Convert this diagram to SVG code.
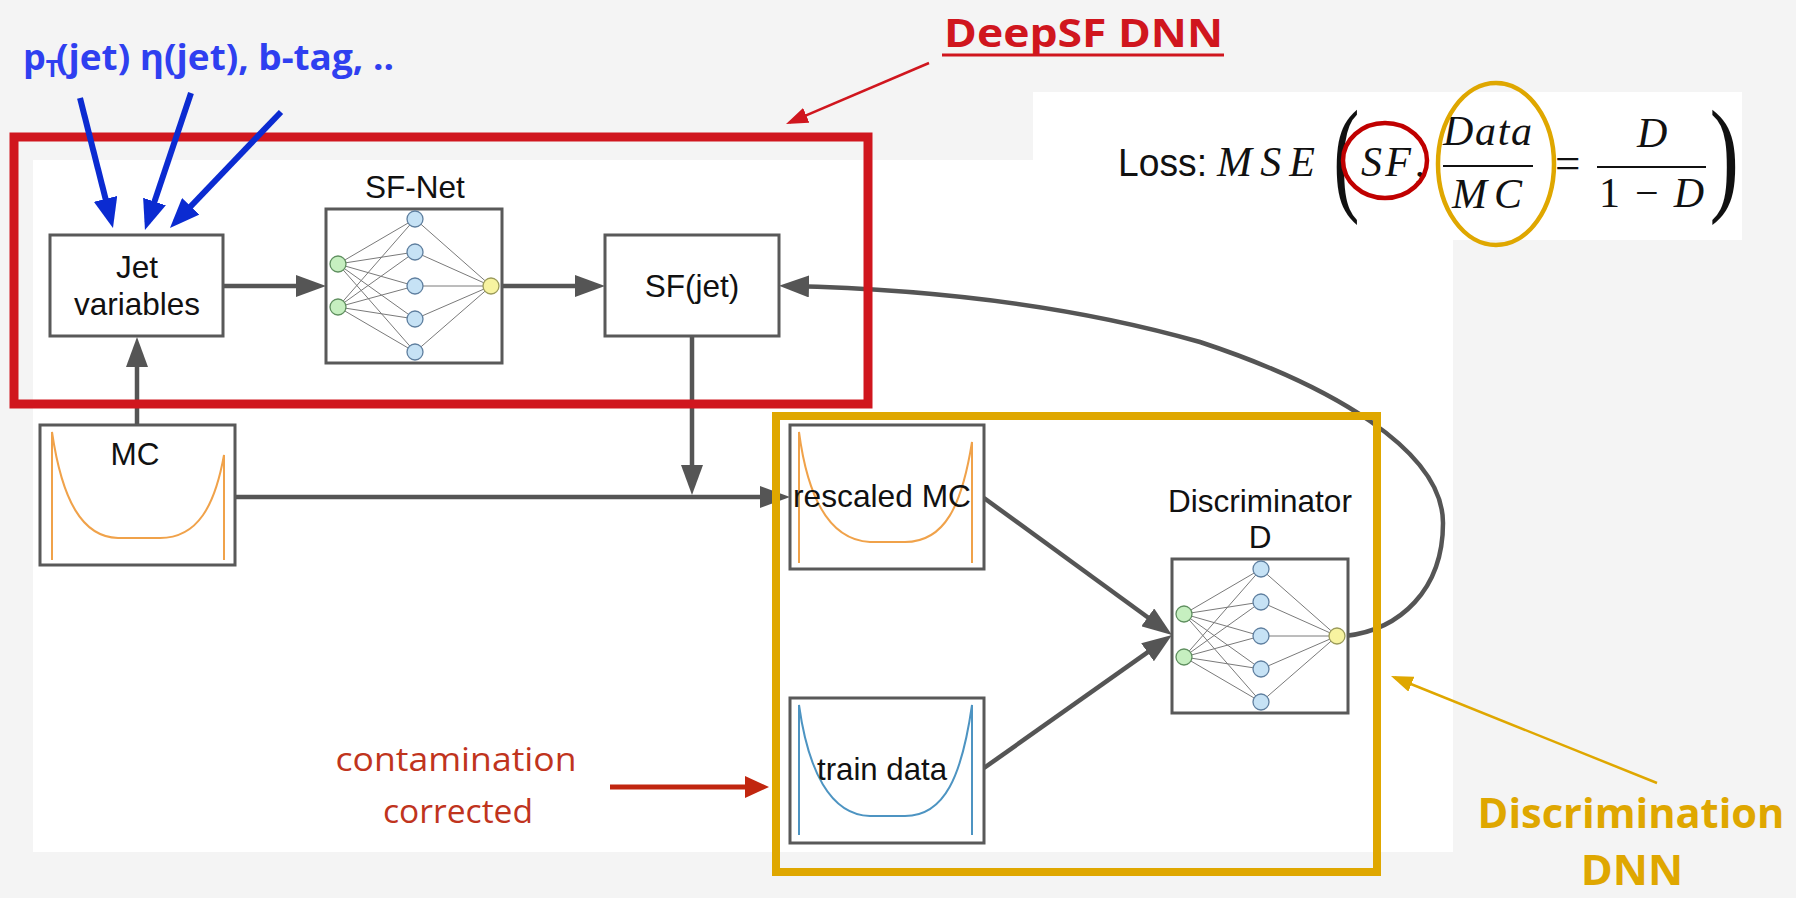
<svg xmlns="http://www.w3.org/2000/svg" xmlns:xlink="http://www.w3.org/1999/xlink" width="1796" height="898" viewBox="0 0 1796 898">
  <style>
    .box { fill: #ffffff; stroke: #595959; stroke-width: 3; }
    .lbl { font-family: "Liberation Sans", Arial, sans-serif; font-size: 31.5px; fill: #111111; }
    .conn { fill: none; stroke: #555555; stroke-width: 4.5; }
    .edge { stroke: #7a7a7a; stroke-width: 1; }
    .nin { fill: #c6efc0; stroke: #5f8f5f; stroke-width: 1.3; }
    .nhid { fill: #c6e2f5; stroke: #5f7f9f; stroke-width: 1.3; }
    .nout { fill: #f7f3a0; stroke: #9a9a5a; stroke-width: 1.3; }
    .math { font-family: "Liberation Serif", "Times New Roman", serif; font-style: italic; font-size: 42px; fill: #111111; }
    .mathup { font-family: "Liberation Serif", "Times New Roman", serif; font-size: 42px; fill: #111111; }
    .callout { font-family: "Open Sans", "Noto Sans", sans-serif; font-weight: 700; }
  </style>
  <defs>
    <marker id="ah-gray" markerUnits="userSpaceOnUse" markerWidth="30" markerHeight="22" refX="22" refY="11" orient="auto">
      <path d="M0,0 L30,11 L0,22 z" fill="#555555"/>
    </marker>
    <marker id="ah-blue" markerUnits="userSpaceOnUse" markerWidth="30" markerHeight="24" refX="22" refY="12" orient="auto">
      <path d="M0,0 L30,12 L0,24 z" fill="#0b2bd1"/>
    </marker>
    <marker id="ah-redthin" markerUnits="userSpaceOnUse" markerWidth="22" markerHeight="16" refX="18" refY="8" orient="auto">
      <path d="M0,0 L22,8 L0,16 z" fill="#d0161e"/>
    </marker>
    <marker id="ah-orangethin" markerUnits="userSpaceOnUse" markerWidth="22" markerHeight="16" refX="18" refY="8" orient="auto">
      <path d="M0,0 L22,8 L0,16 z" fill="#dfa700"/>
    </marker>
    <marker id="ah-red" markerUnits="userSpaceOnUse" markerWidth="24" markerHeight="22" refX="16" refY="11" orient="auto">
      <path d="M0,0 L24,11 L0,22 z" fill="#c1260f"/>
    </marker>
    <g id="net">
      <rect class="box" x="0" y="0" width="176" height="154"/>
      <g class="edge">
        <line x1="12" y1="55" x2="89" y2="10"/><line x1="12" y1="55" x2="89" y2="43"/><line x1="12" y1="55" x2="89" y2="77"/><line x1="12" y1="55" x2="89" y2="110"/><line x1="12" y1="55" x2="89" y2="143"/>
        <line x1="12" y1="98" x2="89" y2="10"/><line x1="12" y1="98" x2="89" y2="43"/><line x1="12" y1="98" x2="89" y2="77"/><line x1="12" y1="98" x2="89" y2="110"/><line x1="12" y1="98" x2="89" y2="143"/>
        <line x1="89" y1="10" x2="165" y2="77"/><line x1="89" y1="43" x2="165" y2="77"/><line x1="89" y1="77" x2="165" y2="77"/><line x1="89" y1="110" x2="165" y2="77"/><line x1="89" y1="143" x2="165" y2="77"/>
      </g>
      <circle class="nin" cx="12" cy="55" r="8"/>
      <circle class="nin" cx="12" cy="98" r="8"/>
      <circle class="nhid" cx="89" cy="10" r="8"/>
      <circle class="nhid" cx="89" cy="43" r="8"/>
      <circle class="nhid" cx="89" cy="77" r="8"/>
      <circle class="nhid" cx="89" cy="110" r="8"/>
      <circle class="nhid" cx="89" cy="143" r="8"/>
      <circle class="nout" cx="165" cy="77" r="8"/>
    </g>
  </defs>

  <!-- background -->
  <rect x="0" y="0" width="1796" height="898" fill="#f4f4f4"/>
  <rect x="33" y="160" width="1420" height="692" fill="#ffffff"/>
  <rect x="1033" y="92" width="709" height="148" fill="#ffffff"/>

  <!-- connectors -->
  <g id="connectors">
    <line class="conn" x1="137" y1="425" x2="137" y2="345" marker-end="url(#ah-gray)"/>
    <line class="conn" x1="223" y1="286" x2="318" y2="286" marker-end="url(#ah-gray)"/>
    <line class="conn" x1="502" y1="286" x2="597" y2="286" marker-end="url(#ah-gray)"/>
    <line class="conn" x1="692" y1="336" x2="692" y2="487" marker-end="url(#ah-gray)"/>
    <line class="conn" x1="235" y1="497" x2="782" y2="497" marker-end="url(#ah-gray)"/>
    <line class="conn" x1="984" y1="498" x2="1165.5" y2="630.3" marker-end="url(#ah-gray)"/>
    <line class="conn" x1="984" y1="768" x2="1165.5" y2="639.6" marker-end="url(#ah-gray)"/>
    <path class="conn" d="M1345,636 C1400,630 1443,590 1443,523 C1443,450 1330,385 1200,342 C1070,305 930,289 787,286" marker-end="url(#ah-gray)"/>
  </g>

  <!-- nodes -->
  <g id="jet-variables">
    <rect class="box" x="50" y="235" width="173" height="101"/>
    <text class="lbl" x="137" y="278" text-anchor="middle">Jet</text>
    <text class="lbl" x="137" y="315" text-anchor="middle">variables</text>
  </g>
  <g id="sf-net">
    <text class="lbl" x="415" y="198" text-anchor="middle">SF-Net</text>
    <use xlink:href="#net" x="326" y="209"/>
  </g>
  <g id="sf-jet">
    <rect class="box" x="605" y="235" width="174" height="101"/>
    <text class="lbl" x="692" y="297" text-anchor="middle">SF(jet)</text>
  </g>
  <g id="mc">
    <rect class="box" x="40" y="425" width="195" height="140"/>
    <path d="M52,560 L52,432 C62,500 82,537 118,538 L160,538 C198,538 215,505 224,455 L224,560" fill="none" stroke="#f0a24a" stroke-width="2"/>
    <text class="lbl" x="135" y="465" text-anchor="middle">MC</text>
  </g>
  <g id="rescaled-mc">
    <rect class="box" x="790" y="425" width="194" height="144"/>
    <path d="M799,563 L799,432 C808,500 830,540 870,542 L905,542 C945,542 962,505 972,442 L972,563" fill="none" stroke="#f0a24a" stroke-width="2"/>
    <text class="lbl" x="793" y="507" textLength="178" lengthAdjust="spacingAndGlyphs">rescaled MC</text>
  </g>
  <g id="train-data">
    <rect class="box" x="790" y="698" width="194" height="145"/>
    <path d="M799,835 L799,705 C808,770 830,815 870,816 L905,816 C945,816 962,775 972,705 L972,835" fill="none" stroke="#4d94c2" stroke-width="2"/>
    <text class="lbl" x="817" y="780" textLength="130" lengthAdjust="spacingAndGlyphs">train data</text>
  </g>
  <g id="discriminator">
    <text class="lbl" x="1260" y="512" text-anchor="middle">Discriminator</text>
    <text class="lbl" x="1260" y="548" text-anchor="middle">D</text>
    <use xlink:href="#net" x="1172" y="559"/>
  </g>

  <!-- annotation frames -->
  <g id="deepsf-frame">
    <rect x="14" y="137" width="854" height="267" fill="none" stroke="#d0161e" stroke-width="9"/>
  </g>
  <g id="discrimination-frame">
    <rect x="776" y="416" width="601" height="456" fill="none" stroke="#dfa700" stroke-width="8"/>
  </g>

  <!-- input variables label -->
  <g id="input-variables">
    <text class="callout" x="23" y="70" font-size="36" fill="#2f3ff0">p<tspan font-size="23" dy="7">T</tspan></text>
    <text class="callout" x="56" y="70" font-size="36" fill="#2f3ff0" textLength="338" lengthAdjust="spacingAndGlyphs">(jet) η(jet), b-tag, ..</text>
    <line x1="80" y1="98" x2="111" y2="220.2" stroke="#0b2bd1" stroke-width="6" marker-end="url(#ah-blue)"/>
    <line x1="191" y1="93" x2="147.5" y2="222.4" stroke="#0b2bd1" stroke-width="6" marker-end="url(#ah-blue)"/>
    <line x1="281" y1="112" x2="175.5" y2="222.2" stroke="#0b2bd1" stroke-width="6" marker-end="url(#ah-blue)"/>
  </g>

  <!-- DeepSF DNN label -->
  <g id="deepsf-label">
    <text class="callout" x="944" y="47" font-size="40" fill="#d0161e" textLength="279" lengthAdjust="spacingAndGlyphs">DeepSF DNN</text>
    <line x1="942" y1="55" x2="1224" y2="55" stroke="#d0161e" stroke-width="3"/>
    <line x1="929" y1="63" x2="789.7" y2="122.4" stroke="#d0161e" stroke-width="2.5" marker-end="url(#ah-redthin)"/>
  </g>

  <!-- Discrimination DNN label -->
  <g id="discrimination-label">
    <text class="callout" font-size="42" fill="#dfa700" text-anchor="middle" transform="translate(1631,828) scale(0.99,1)">Discrimination</text>
    <text class="callout" font-size="42" fill="#dfa700" text-anchor="middle" transform="translate(1632,885) scale(1.03,1)">DNN</text>
    <line x1="1657" y1="783" x2="1394.7" y2="677.5" stroke="#dfa700" stroke-width="2.5" marker-end="url(#ah-orangethin)"/>
  </g>

  <!-- contamination corrected -->
  <g id="contamination">
    <text x="456" y="771" font-family="'Open Sans', 'Noto Sans', sans-serif" font-size="33" fill="#c0341d" text-anchor="middle" textLength="241" lengthAdjust="spacingAndGlyphs">contamination</text>
    <text x="458" y="823" font-family="'Open Sans', 'Noto Sans', sans-serif" font-size="33" fill="#c0341d" text-anchor="middle" textLength="150" lengthAdjust="spacingAndGlyphs">corrected</text>
    <line x1="610" y1="787" x2="761" y2="787" stroke="#c1260f" stroke-width="5" marker-end="url(#ah-red)"/>
  </g>

  <!-- loss formula -->
  <g id="loss-formula">
    <text x="1118" y="176" font-family="'Liberation Sans', Arial, sans-serif" font-size="38" fill="#111111" textLength="89" lengthAdjust="spacingAndGlyphs">Loss:</text>
    <text class="math" x="1217" y="176" textLength="98" lengthAdjust="spacing">MSE</text>
    <text class="mathup" transform="translate(1333.2,197.5) scale(0.62,1)" style="font-size:127px">(</text>
    <text class="math" x="1361" y="176" textLength="50" lengthAdjust="spacing">SF</text>
    <text class="mathup" x="1415" y="176">,</text>
    <text class="math" x="1443" y="145" textLength="89" lengthAdjust="spacing">Data</text>
    <line x1="1443" y1="166" x2="1533" y2="166" stroke="#111111" stroke-width="2.2"/>
    <text class="math" x="1452" y="208" textLength="70" lengthAdjust="spacing">MC</text>
    <text class="mathup" x="1555" y="178" style="font-size:45px">=</text>
    <text class="math" x="1637" y="147">D</text>
    <line x1="1597" y1="167" x2="1706" y2="167" stroke="#111111" stroke-width="2.2"/>
    <text class="mathup" x="1599" y="207" textLength="105" lengthAdjust="spacing">1 − <tspan font-style="italic">D</tspan></text>
    <text class="mathup" transform="translate(1709.4,197.5) scale(0.7,1)" style="font-size:127px">)</text>
    <ellipse cx="1385" cy="160.5" rx="42" ry="37.5" fill="none" stroke="#c00000" stroke-width="4.5"/>
    <ellipse cx="1496" cy="164" rx="58" ry="81" fill="none" stroke="#dfa700" stroke-width="4.5"/>
  </g>
</svg>
